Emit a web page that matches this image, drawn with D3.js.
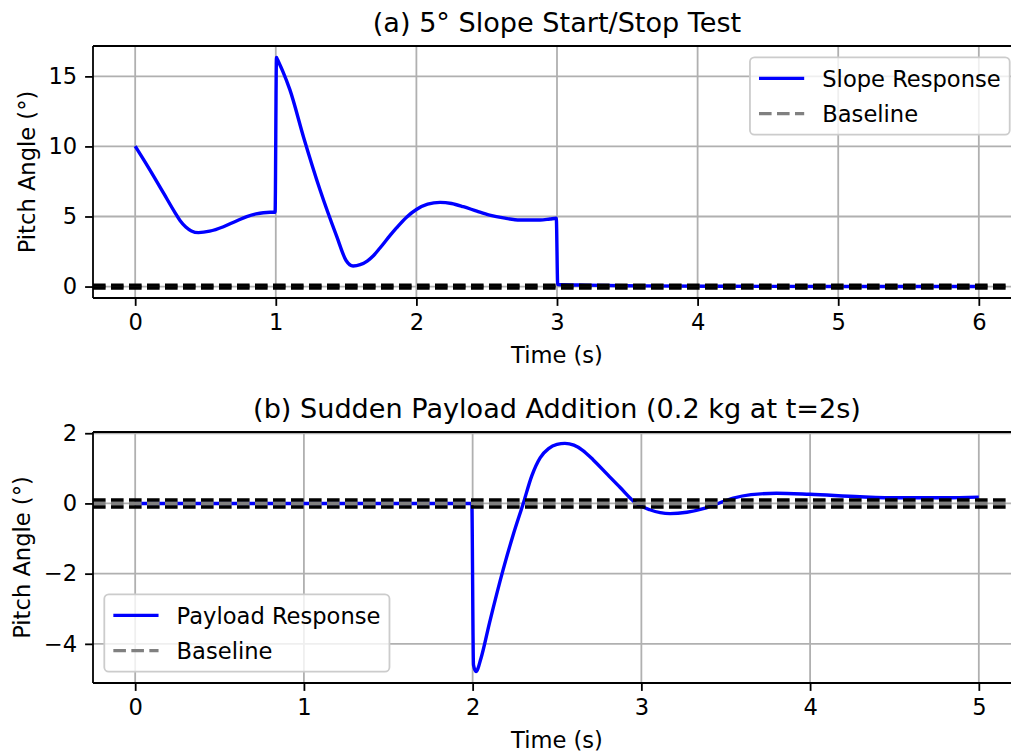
<!DOCTYPE html>
<html>
<head>
<meta charset="utf-8">
<script src="https://cdn.jsdelivr.net/npm/d3@7"></script>
<style>
html, body { margin: 0; padding: 0; background: #fff; }
svg { display: block; font-family: "DejaVu Sans", sans-serif; }
</style>
</head>
<body>
<div id="chart"></div>
<script>
// (a) slope start/stop test
const slopeTime = [0, 0.1, 0.2, 0.28, 0.32, 0.36, 0.40, 0.45, 0.53, 0.628, 0.72, 0.794, 0.86, 0.912, 0.96, 0.995,
    1.005, 1.012, 1.05, 1.10, 1.197, 1.315, 1.434, 1.50, 1.55, 1.60, 1.65, 1.694, 1.741, 1.813, 1.86, 1.93, 2.0, 2.08, 2.168, 2.25,
    2.334, 2.43, 2.52, 2.63, 2.737, 2.88, 2.95, 2.995, 3.005, 3.2, 3.6, 4.2, 5.0, 6.0];
const slopeAngle = [10.02, 8.4, 6.7, 5.33, 4.7, 4.25, 3.97, 3.85, 3.95, 4.27, 4.68, 4.99, 5.18, 5.27, 5.3, 5.3,
    16.35, 16.2, 15.35, 14.05, 10.68, 6.89, 3.56, 1.86, 1.47, 1.56, 1.82, 2.2, 2.75, 3.65, 4.2, 4.95, 5.5, 5.88, 6.01, 5.93,
    5.70, 5.38, 5.1, 4.88, 4.75, 4.75, 4.82, 4.87, 0.15, 0.1, 0.05, 0.02, 0, 0];

// (b) sudden payload addition
const payloadTime = [0, 1.0, 1.995, 2.005, 2.02, 2.05, 2.1, 2.18, 2.24, 2.30, 2.35, 2.40, 2.45, 2.50, 2.547, 2.60, 2.65, 2.715,
    2.80, 2.873, 2.97, 3.05, 3.17, 3.27, 3.367, 3.466, 3.545, 3.65, 3.80, 4.0, 4.295, 4.53, 4.8, 5.0];
const payloadAngle = [0, 0, 0, -4.6, -4.79, -4.4, -3.4, -1.9, -0.9, 0.0, 0.78, 1.3, 1.56, 1.68, 1.71, 1.66, 1.52, 1.24,
    0.82, 0.46, 0.0, -0.18, -0.29, -0.25, -0.15, 0.02, 0.15, 0.25, 0.29, 0.26, 0.19, 0.16, 0.16, 0.18];

const slopeXTicks = [0, 1, 2, 3, 4, 5, 6];
const slopeYTicks = [0, 5, 10, 15];
const payloadXTicks = [0, 1, 2, 3, 4, 5];
const payloadYTicks = [-4, -2, 0, 2];

const baselineLevel = 0;
const toleranceLevels = [-0.1, 0.1];

const W = 1011, H = 753;
const FS = 22.6;          // 10pt at this figure's dpi
const LW = 3.4;           // 1.5pt line width
const THIN = 1.8;         // 0.8pt spines / grid
const DASH = '12.6,5.4';

const svg = d3.select('#chart').append('svg')
    .attr('width', W)
    .attr('height', H);

function padded([lo, hi]) {
    const m = (hi - lo) * 0.05;
    return [lo - m, hi + m];
}

function fmt(d) {
    return d < 0 ? '\u2212' + Math.abs(d) : String(d);
}

function drawLegend(g, items, box) {
    const pad = 0.4 * FS, handleLen = 2 * FS, textPad = 0.8 * FS, rowH = 24, spacing = 0.5 * FS;
    const lg = g.append('g');
    const frame = lg.append('rect');
    const texts = items.map(it => lg.append('text')
        .attr('font-size', FS)
        .attr('fill', '#000')
        .text(it.label));
    const textW = d3.max(texts, t => t.node().getComputedTextLength());
    const w = pad + handleLen + textPad + textW + pad;
    const h = pad * 2 + rowH * items.length + spacing * (items.length - 1);
    const x0 = box.anchor === 'upper right' ? box.right - 0.5 * FS - w : box.left + 0.5 * FS;
    const y0 = box.anchor === 'upper right' ? box.top + 0.5 * FS : box.bottom - 0.5 * FS - h;

    frame.attr('x', x0).attr('y', y0).attr('width', w).attr('height', h)
        .attr('rx', 4.5).attr('ry', 4.5)
        .attr('fill', '#fff').attr('fill-opacity', 0.8)
        .attr('stroke', '#cccccc').attr('stroke-width', THIN);

    items.forEach((it, i) => {
        const cy = y0 + pad + rowH / 2 + i * (rowH + spacing);
        lg.append('line')
            .attr('x1', x0 + pad).attr('x2', x0 + pad + handleLen)
            .attr('y1', cy).attr('y2', cy)
            .attr('stroke', it.color).attr('stroke-width', LW)
            .attr('stroke-dasharray', it.dash || null);
        texts[i].attr('x', x0 + pad + handleLen + textPad).attr('y', cy + 8.3);
    });
}

function drawPanel(opt) {
    const { left, right, top, bottom } = opt.box;
    const x = d3.scaleLinear().domain(padded(d3.extent(opt.t))).range([left, right]);
    const y = d3.scaleLinear().domain(padded(d3.extent(opt.v))).range([bottom, top]);
    const g = svg.append('g');

    g.append('clipPath').attr('id', opt.id)
        .append('rect').attr('x', left).attr('y', top).attr('width', right - left).attr('height', bottom - top);

    // grid
    g.append('g').selectAll('line').data(opt.xTicks).join('line')
        .attr('x1', d => x(d)).attr('x2', d => x(d)).attr('y1', top).attr('y2', bottom)
        .attr('stroke', '#b0b0b0').attr('stroke-width', THIN);
    g.append('g').selectAll('line').data(opt.yTicks).join('line')
        .attr('x1', left).attr('x2', right).attr('y1', d => y(d)).attr('y2', d => y(d))
        .attr('stroke', '#b0b0b0').attr('stroke-width', THIN);

    const plot = g.append('g').attr('clip-path', `url(#${opt.id})`);
    const pts = opt.t.map((t, i) => [t, opt.v[i]]);
    const line = d3.line()
        .x(d => x(d[0]))
        .y(d => y(d[1]))
        .curve(d3.curveMonotoneX);

    plot.append('path').datum(pts)
        .attr('fill', 'none')
        .attr('stroke', '#0000ff')
        .attr('stroke-width', LW)
        .attr('stroke-linejoin', 'round')
        .attr('d', line);

    plot.append('line')
        .attr('x1', left).attr('x2', right)
        .attr('y1', y(baselineLevel)).attr('y2', y(baselineLevel))
        .attr('stroke', '#808080').attr('stroke-width', LW)
        .attr('stroke-dasharray', DASH);

    plot.selectAll('.tol').data(toleranceLevels).join('line')
        .attr('class', 'tol')
        .attr('x1', left).attr('x2', right)
        .attr('y1', d => y(d)).attr('y2', d => y(d))
        .attr('stroke', '#000').attr('stroke-width', LW)
        .attr('stroke-dasharray', DASH);

    // axes
    const xAxis = g.append('g')
        .attr('transform', `translate(0,${bottom})`)
        .call(d3.axisBottom(x).tickValues(opt.xTicks).tickFormat(fmt).tickSize(7.9).tickPadding(7.9).tickSizeOuter(0));
    const yAxis = g.append('g')
        .attr('transform', `translate(${left},0)`)
        .call(d3.axisLeft(y).tickValues(opt.yTicks).tickFormat(fmt).tickSize(7.9).tickPadding(7.9).tickSizeOuter(0));
    [xAxis, yAxis].forEach(a => {
        a.selectAll('path, line').attr('stroke', '#000').attr('stroke-width', THIN);
        a.selectAll('text').attr('font-size', FS).attr('font-family', '"DejaVu Sans", sans-serif').attr('fill', '#000');
    });
    xAxis.select('.domain').attr('d', `M${left},0H${right}`);
    yAxis.select('.domain').attr('d', `M0,${bottom}V${top}`);

    g.append('line').attr('x1', left).attr('x2', right).attr('y1', top).attr('y2', top)
        .attr('stroke', '#000').attr('stroke-width', THIN);
    g.append('line').attr('x1', right).attr('x2', right).attr('y1', top).attr('y2', bottom)
        .attr('stroke', '#000').attr('stroke-width', THIN);

    // title & labels
    g.append('text')
        .attr('x', (left + right) / 2).attr('y', top - 13.6)
        .attr('text-anchor', 'middle')
        .attr('font-size', 27.1)
        .text(opt.title);

    g.append('text')
        .attr('x', (left + right) / 2).attr('y', bottom + 65)
        .attr('text-anchor', 'middle')
        .attr('font-size', FS)
        .text('Time (s)');

    const tickBox = yAxis.selectAll('text').nodes().map(n => n.getBBox().x + left);
    const labelX = d3.min(tickBox) - 9 - 4.6;
    g.append('text')
        .attr('transform', `translate(${labelX},${(top + bottom) / 2}) rotate(-90)`)
        .attr('text-anchor', 'middle')
        .attr('font-size', FS)
        .text('Pitch Angle (°)');

    drawLegend(g, [
        { label: opt.legend, color: '#0000ff' },
        { label: 'Baseline', color: '#808080', dash: DASH }
    ], { ...opt.box, anchor: opt.legendPos });
}

drawPanel({
    id: 'clipA',
    box: { left: 93, right: 1021, top: 46, bottom: 298 },
    t: slopeTime, v: slopeAngle,
    xTicks: slopeXTicks, yTicks: slopeYTicks,
    title: '(a) 5° Slope Start/Stop Test',
    legend: 'Slope Response',
    legendPos: 'upper right'
});

drawPanel({
    id: 'clipB',
    box: { left: 93, right: 1021, top: 432, bottom: 683 },
    t: payloadTime, v: payloadAngle,
    xTicks: payloadXTicks, yTicks: payloadYTicks,
    title: '(b) Sudden Payload Addition (0.2 kg at t=2s)',
    legend: 'Payload Response',
    legendPos: 'lower left'
});
</script>
</body>
</html>
